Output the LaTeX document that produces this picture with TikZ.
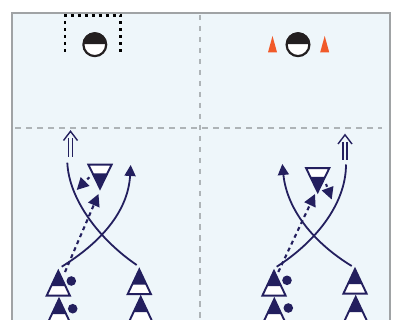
\documentclass[tikz,border=0pt]{standalone}
\usetikzlibrary{arrows.meta}
\definecolor{navy}{HTML}{231F5E}
\definecolor{field}{HTML}{EEF6FA}
\definecolor{frame}{HTML}{A0A3A5}
\definecolor{guide}{HTML}{AEB4B7}
\definecolor{cone}{HTML}{F15A29}
\definecolor{ballk}{HTML}{231F20}
\tikzset{
  run/.style={navy,line width=1.8pt,-{Triangle[length=11pt,width=11pt]}},
  runplain/.style={navy,line width=1.8pt},
  dashrun/.style={navy,line width=2.1pt,dash pattern=on 4pt off 3.6pt,-{Triangle[length=12pt,width=12pt,sep=0pt]}},
  passrun/.style={navy,line width=2.1pt,dash pattern=on 3pt off 3pt,-{Triangle[length=12pt,width=12pt]}},
  guideline/.style={guide,line width=1.7pt,dash pattern=on 5.5pt off 5.5pt},
  goalline/.style={black,line width=2.2pt,dash pattern=on 3pt off 4pt},
  dotball/.style={circle,fill=navy,inner sep=0pt,minimum size=9.6pt},
}
\newcommand{\plup}[3]{%
  \begin{scope}[shift={(#2,#3)}]
    \coordinate (#1) at (0,0);
    \fill[white] (0,0) -- (-12.3,25.5) -- (12.3,25.5) -- cycle;
    \fill[navy] (0,0) -- (-7.2,15) -- (7.2,15) -- cycle;
    \draw[navy,line width=1.9pt,line join=miter] (0,0) -- (-11.6,24.6) -- (11.6,24.6) -- cycle;
  \end{scope}}
\newcommand{\pldown}[3]{%
  \begin{scope}[shift={(#2,#3)}]
    \coordinate (#1) at (0,0);
    \fill[white] (0,0) -- (-12.2,-24.5) -- (12.2,-24.5) -- cycle;
    \fill[navy] (0,0) -- (-7.4,-15) -- (7.4,-15) -- cycle;
    \draw[navy,line width=1.9pt] (0,0) -- (-11.6,-23.8) -- (11.6,-23.8) -- cycle;
  \end{scope}}
\newcommand{\theball}[2]{%
  \begin{scope}[shift={(#1,#2)}]
    \fill[white] (0,0) circle (12);
    \fill[ballk] (-12,-0.5) arc[start angle=180,end angle=360,radius=12] -- cycle;
    \draw[ballk,line width=2.2pt] (0,0) circle (11.4);
  \end{scope}}
\newcommand{\dblarrow}[2]{%
  \begin{scope}[shift={(#1,#2)}]
    \draw[navy,line width=1.4pt] (-2,8) -- (-2,26.5);
    \draw[navy,line width=1.4pt] (2,8) -- (2,26.5);
    \draw[navy,line width=1.4pt] (-7,10) -- (0,0.8) -- (7,10);
  \end{scope}}
\begin{document}
\begin{tikzpicture}[x=1pt,y=-1pt]
\useasboundingbox (0,0) rectangle (398,320);
\begin{scope}
\clip (0,0) rectangle (398,320);
\fill[white] (0,0) rectangle (398,320);
\fill[field] (12,13) rectangle (390,330);
\draw[frame,line width=2pt] (12,13) rectangle (390,330);
\coordinate (vtop) at (200,15); \coordinate (vbot) at (200,320);
\coordinate (hl) at (15,128); \coordinate (hr) at (382,128);
\draw[guideline] (vtop) -- (vbot);
\draw[guideline] (hl) -- (hr);
% goal
\coordinate (ga) at (65,52); \coordinate (gb) at (65,15.5);
\coordinate (gc) at (120.5,15.5); \coordinate (gd) at (120.5,52);
\draw[goalline] (ga) -- (gb) -- (gc) -- (gd);
\theball{94.8}{44.7}
\theball{298}{44.7}
% cones
\fill[cone] (272.5,36) -- (268,52.3) -- (277,52.3) -- cycle;
\fill[cone] (324.7,36) -- (320.2,52.3) -- (329.2,52.3) -- cycle;
% left half
\pldown{dl}{100}{188.5}
\plup{pa}{58.3}{271}
\plup{pb}{59}{299}
\plup{pc}{139.3}{269.5}
\plup{pd}{140.7}{297}
\node[dotball] (da) at (71.3,281) {};
\node[dotball] (db) at (72.7,308.7) {};
\dblarrow{70.5}{130.5}
\coordinate (c1s) at (67.3,162.7); \coordinate (c1e) at (136.7,265);
\coordinate (c2s) at (61.7,266.7); \coordinate (c2e) at (130.7,165);
\draw[runplain] (c1s) .. controls (69,200) and (100,240) .. (c1e);
\draw[run] (c2s) .. controls (100,243) and (128,212) .. (c2e);
\coordinate (d1s) at (65,272); \coordinate (d1e) at (98.5,194);
\draw[dashrun] (d1s) -- (d1e);
\coordinate (p1s) at (89.3,177.3); \coordinate (p1e) at (76.7,190);
\draw[passrun] (p1s) -- (p1e);
% right half
\pldown{dr}{317.7}{192}
\plup{qa}{274}{271}
\plup{qb}{274.3}{299}
\plup{qc}{355}{269}
\plup{qd}{355.7}{297}
\node[dotball] (dc) at (287,280.3) {};
\node[dotball] (dd) at (288.3,308) {};
\dblarrow{345}{134}
\coordinate (c3s) at (346,164.5); \coordinate (c3e) at (276.7,266.7);
\coordinate (c4s) at (351.7,266); \coordinate (c4e) at (282.3,164);
\draw[runplain] (c3s) .. controls (346,205) and (314,243) .. (c3e);
\draw[run] (c4s) .. controls (314,243) and (287,210) .. (c4e);
\coordinate (d2s) at (278.3,272); \coordinate (d2e) at (315,194);
\draw[dashrun] (d2s) -- (d2e);
\coordinate (p2s) at (326,184); \coordinate (p2e) at (331.7,199.5);
\draw[passrun] (p2s) -- (p2e);
\end{scope}
\end{tikzpicture}
\end{document}
